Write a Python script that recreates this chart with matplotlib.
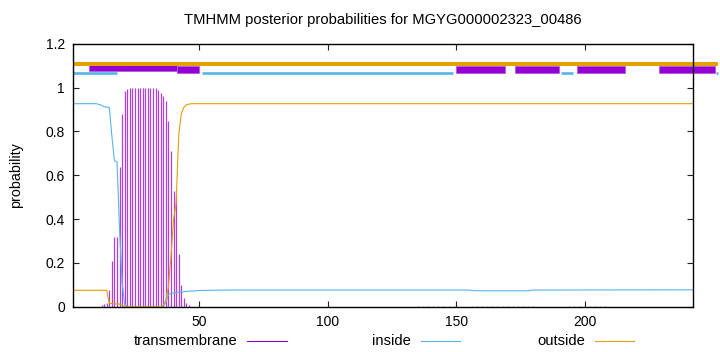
import matplotlib
matplotlib.use("Agg")
import matplotlib.pyplot as plt
from matplotlib.lines import Line2D
from matplotlib.patches import Rectangle
from matplotlib.ticker import FuncFormatter

plt.rcParams['font.family'] = ['Liberation Sans', 'DejaVu Sans']

# ---------------- data ----------------
title = "TMHMM posterior probabilities for MGYG000002323_00486"
seq_len = 242

# transmembrane posterior (impulses)
tm_pos = list(range(12, 47))
tm_val = [0.01, 0.012, 0.015, 0.076, 0.21, 0.32, 0.32, 0.64, 0.88, 0.985, 0.994,
          1.0, 1.0, 1.0, 1.0, 1.0, 1.0, 1.0, 1.0, 1.0, 1.0,
          0.997, 0.99, 0.975, 0.96, 0.94, 0.85, 0.71, 0.53, 0.51, 0.24, 0.10,
          0.04, 0.018, 0.008]
tm_small_pos = [135, 137, 139, 141, 143, 145, 147, 149,
                156, 158, 160, 162, 164, 166, 168, 170, 172, 174, 176, 178, 180,
                194, 196, 198, 200, 202, 204, 206, 208]
tm_small_val = [0.004, 0.004, 0.004, 0.004, 0.004, 0.004, 0.004, 0.004,
                0.005, 0.005, 0.005, 0.005, 0.005, 0.005, 0.005, 0.005, 0.005, 0.005, 0.004, 0.004, 0.004,
                0.004, 0.004, 0.004, 0.004, 0.004, 0.004, 0.004, 0.004]

# inside posterior (breakpoints of the line)
inside_x = [1, 10, 12, 13, 15, 16, 17, 18, 19, 20, 21, 22, 36, 37, 38, 39, 40, 42,
            45, 50, 60, 155, 157, 178, 180, 242]
inside_y = [0.927, 0.927, 0.92, 0.913, 0.91, 0.78, 0.667, 0.662, 0.35, 0.11, 0.01, 0.0,
            0.0, 0.02, 0.056, 0.06, 0.063, 0.066, 0.07, 0.074, 0.076, 0.076, 0.073,
            0.073, 0.076, 0.077]

# outside posterior (breakpoints of the line)
outside_x = [1, 14, 15, 19, 20, 21, 22, 35, 36, 37, 38, 39, 40, 41, 42, 43, 44, 45,
             46, 47, 242]
outside_y = [0.075, 0.075, 0.015, 0.012, 0.008, 0.002, 0.0, 0.0, 0.005, 0.03, 0.09,
             0.23, 0.40, 0.47, 0.78, 0.88, 0.91, 0.922, 0.925, 0.927, 0.927]

# predicted topology strip above the plot
outside_strip = (1, 252)
inside_strip_starts = [1, 51, 190.7, 251]
inside_strip_ends = [18, 148.9, 195.5, 252]
tm_box_starts = [7.1, 41.2, 149.9, 172.9, 196.8, 228.7]
tm_box_ends = [41.2, 50.0, 168.8, 189.8, 215.7, 250.7]
tm_box_bottoms = [1.076, 1.066, 1.066, 1.066, 1.066, 1.066]
tm_box_tops = [1.105, 1.099, 1.099, 1.099, 1.099, 1.099]

xticks = [50, 100, 150, 200]
yticks = [0, 0.2, 0.4, 0.6, 0.8, 1.0, 1.2]

c_tm = '#9400D3'
c_in = '#56B4E9'
c_out = '#E69F00'

# ---------------- figure ----------------
W, H = 720, 352
fig = plt.figure(figsize=(W / 100, H / 100), dpi=100)
L, R, B, T = 73.3, 692.7, 306.7, 43.9
ax = fig.add_axes([L / W, 1 - B / H, (R - L) / W, (B - T) / H])
ax.set_xlim(1, seq_len)
ax.set_ylim(0, 1.2)

ax.vlines(tm_pos, 0, tm_val, color=c_tm, lw=0.9, alpha=0.75, zorder=2)
ax.vlines(tm_small_pos, 0, tm_small_val, color=c_tm, lw=0.9, alpha=0.6, zorder=2)
ax.plot(inside_x, inside_y, color=c_in, lw=0.8, zorder=3)
ax.plot(outside_x, outside_y, color=c_out, lw=0.8, zorder=3)

# topology strip
for s, e, b, t in zip(tm_box_starts, tm_box_ends, tm_box_bottoms, tm_box_tops):
    ax.add_patch(Rectangle((s, b), e - s, t - b, facecolor=c_tm, edgecolor='#B65BE0',
                           lw=0.6, clip_on=False, zorder=4))
ax.plot(outside_strip, [1.108, 1.108], color=c_out, lw=2.9, clip_on=False,
        solid_capstyle='butt', zorder=5)
for s, e in zip(inside_strip_starts, inside_strip_ends):
    ax.plot([s, e], [1.069, 1.069], color=c_in, lw=1.9, clip_on=False,
            solid_capstyle='butt', zorder=6)

ax.set_xticks(xticks)
ax.set_yticks(yticks)
ax.yaxis.set_major_formatter(FuncFormatter(lambda v, p: f"{v:g}"))
ax.tick_params(direction='in', length=4, width=0.8, top=True, right=True,
               labelsize=10, pad=6, colors='#222222', labelcolor='black')
for sp in ax.spines.values():
    sp.set_linewidth(1.0)
    sp.set_color('black')
    sp.set_zorder(7)

fig.text(383 / W, 1 - 20 / H, title, ha='center', va='center', fontsize=10.6)
fig.text(16 / W, 1 - 175.5 / H, "probability", rotation=90, ha='center',
         va='center', fontsize=10.3)

# legend
ly = 1 - 341 / H
legend = [("transmembrane", 238, 247, 287, c_tm),
          ("inside", 411, 421, 460, c_in),
          ("outside", 585, 595, 634, c_out)]
for label, tx, x0, x1, col in legend:
    fig.text(tx / W, ly, label, ha='right', va='center', fontsize=10.6)
    fig.add_artist(Line2D([x0 / W, x1 / W], [ly, ly], color=col, lw=0.8,
                          transform=fig.transFigure))

fig.savefig("out.png", dpi=100)
